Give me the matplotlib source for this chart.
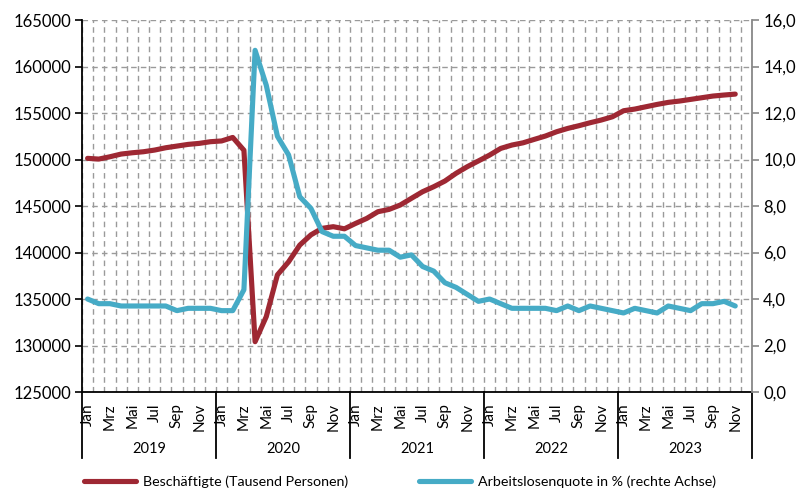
import numpy as np
import matplotlib
matplotlib.use("Agg")
import matplotlib.pyplot as plt
import matplotlib.transforms as mtransforms

plt.rcParams["font.family"] = ["Lato", "DejaVu Sans"]

# monthly data Jan 2019 - Nov 2023
years = ["2019", "2020", "2021", "2022", "2023"]
month_labels = ["Jan", "", "Mrz", "", "Mai", "", "Jul", "", "Sep", "", "Nov", ""]

employment = [
    150130, 150050, 150300, 150590, 150730, 150840, 151020, 151270, 151450, 151630, 151740, 151920,
    152000, 152380, 151000, 130410, 133100, 137600, 139000, 140800, 141900, 142600, 142780, 142550,
    143130, 143670, 144390, 144640, 145110, 145830, 146540, 147080, 147690, 148520, 149230, 149850,
    150480, 151200, 151560, 151800, 152170, 152530, 152990, 153350, 153640, 153960, 154250, 154600,
    155250, 155430, 155680, 155930, 156150, 156290, 156470, 156650, 156830, 156940, 157040,
]
unemployment = [
    4.0, 3.8, 3.8, 3.7, 3.7, 3.7, 3.7, 3.7, 3.5, 3.6, 3.6, 3.6,
    3.5, 3.5, 4.4, 14.7, 13.2, 11.0, 10.2, 8.4, 7.9, 6.9, 6.7, 6.7,
    6.3, 6.2, 6.1, 6.1, 5.8, 5.9, 5.4, 5.2, 4.7, 4.5, 4.2, 3.9,
    4.0, 3.8, 3.6, 3.6, 3.6, 3.6, 3.5, 3.7, 3.5, 3.7, 3.6, 3.5,
    3.4, 3.6, 3.5, 3.4, 3.7, 3.6, 3.5, 3.8, 3.8, 3.9, 3.7,
]

RED = "#9e2833"
BLUE = "#46abc6"
GRID = "#9a9a9a"

n_months = 12 * len(years)
x = np.arange(len(employment)) + 0.5

fig = plt.figure(figsize=(8, 4.9), dpi=100)
ax = fig.add_axes([0.1025, 0.2, 0.8375, 0.759])
ax2 = ax.twinx()

ax.plot(x, employment, color=RED, lw=3.7, solid_capstyle="round", solid_joinstyle="round",
        label="Beschäftigte (Tausend Personen)", zorder=3)
ax2.plot(x, unemployment, color=BLUE, lw=3.7, solid_capstyle="round", solid_joinstyle="round",
         label="Arbeitslosenquote in % (rechte Achse)", zorder=3)

ax.set_xlim(0, n_months)
ax.set_ylim(125000, 165000)
ax.set_yticks(np.arange(125000, 165001, 5000))
ax2.set_ylim(0, 16)
ax2.set_yticks(np.arange(0, 16.1, 2))
ax2.set_yticklabels([f"{v:.1f}".replace(".", ",") for v in np.arange(0, 16.1, 2)])

# month ticks
ax.set_xticks(np.arange(n_months) + 0.5)
ax.set_xticklabels(month_labels * len(years), rotation=90, fontsize=11)
ax.set_xticks(np.arange(n_months + 1), minor=True)
ax.tick_params(axis="x", which="major", length=0, pad=8)
ax.tick_params(axis="x", which="minor", length=0)

ax.tick_params(axis="y", length=5, width=1.2, labelsize=12, pad=3)
ax2.tick_params(axis="y", length=5, width=1.2, labelsize=12, pad=3, color="#888888")

ax.grid(axis="y", which="major", color=GRID, ls=(0, (4, 3)), lw=1)
ax.grid(axis="x", which="minor", color=GRID, ls=(0, (4, 3)), lw=1)
ax.set_axisbelow(True)

for a in (ax, ax2):
    a.spines["top"].set_visible(False)
ax2.spines["left"].set_visible(False)
ax2.spines["bottom"].set_visible(False)
ax.spines["right"].set_visible(False)
ax.spines["left"].set_linewidth(1.3)
ax.spines["bottom"].set_linewidth(1.3)
ax2.spines["right"].set_color("#888888")
ax2.spines["right"].set_linewidth(1.3)

# year separators and labels
trans = mtransforms.blended_transform_factory(ax.transData, ax.transAxes)
for i in range(len(years) + 1):
    ax.plot([12 * i, 12 * i], [0, -0.178], color="black", lw=1.3, transform=trans, clip_on=False)
for i, yr in enumerate(years):
    ax.text(12 * i + 6, -0.152, yr, transform=trans, ha="center", va="center", fontsize=10.5)

h1, l1 = ax.get_legend_handles_labels()
h2, l2 = ax2.get_legend_handles_labels()
fig.legend(h1 + h2, l1 + l2, loc="center left", bbox_to_anchor=(0.105, 0.016), ncol=2,
           frameon=False, fontsize=10.3, handlelength=3.6, handletextpad=0.5,
           columnspacing=5.0, borderpad=0, borderaxespad=0)

fig.savefig("out.png", dpi=100)
